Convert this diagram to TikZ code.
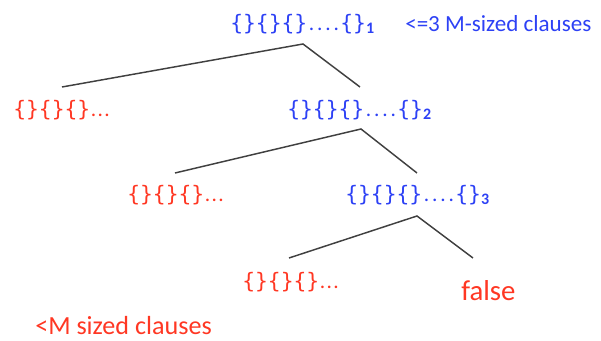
\documentclass[tikz,border=0pt]{standalone}
\usepackage{fontspec}
\setmainfont{Carlito}
\newfontfamily\bracefont{DejaVu Sans Mono}
\definecolor{cblue}{RGB}{45,65,245}
\definecolor{cred}{RGB}{255,55,35}
\newcommand\bpair{{\bracefont\{\}}}
\newcommand\onedot[1]{\makebox[#1][c]{.}}
\newcommand\blues[1]{\bpair\bpair\bpair\onedot{6.2pt}\onedot{6.2pt}\onedot{6.2pt}\onedot{6.2pt}\bpair\raisebox{-2pt}{\fontsize{12}{13}\selectfont\bfseries #1}}
\newcommand\reds{\bpair\bpair\bpair\onedot{5pt}\onedot{5pt}\onedot{5pt}}
\begin{document}
\begin{tikzpicture}[x=0.75pt,y=-0.75pt,
  bl/.style={text=cblue,inner sep=0pt,anchor=west,font=\fontsize{16}{19}\selectfont},
  rd/.style={text=cred,inner sep=0pt,anchor=west,font=\fontsize{16}{19}\selectfont},
  edge/.style={draw=black!75,line width=1.1pt}]
\useasboundingbox (0,0) rectangle (601,341);
\node[bl] (n1) at (230,24) {\blues{1}};
\node[bl,font=\fontsize{17.3}{20}\selectfont] (lab1) at (405,24) {<=3 M-sized clauses};
\node[rd] (r1) at (13,110) {\reds};
\node[bl] (n2) at (287,110) {\blues{2}};
\node[rd] (r2) at (127,195) {\reds};
\node[bl] (n3) at (345,195) {\blues{3}};
\node[rd] (r3) at (242,282) {\reds};
\node[rd,font=\fontsize{21.6}{25}\selectfont] (f) at (461,291) {false};
\node[rd,font=\fontsize{19.6}{23}\selectfont] (lab2) at (35,326) {<M sized clauses};
\coordinate (a1) at (303,44);
\coordinate (a2) at (361,129);
\coordinate (a3) at (417,216);
\coordinate (r1t) at (62,87);
\coordinate (n2t) at (360,87);
\coordinate (r2t) at (175,173);
\coordinate (n3t) at (417,173);
\coordinate (r3t) at (289,258);
\coordinate (ft) at (473,258);
\draw[edge] (r1t) -- (a1) -- (n2t);
\draw[edge] (r2t) -- (a2) -- (n3t);
\draw[edge] (r3t) -- (a3) -- (ft);
\end{tikzpicture}
\end{document}
